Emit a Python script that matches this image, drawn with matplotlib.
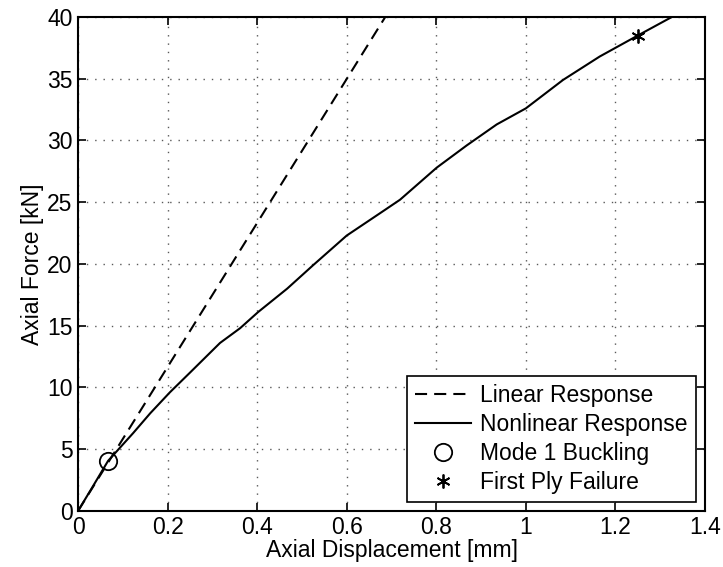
import matplotlib
matplotlib.use("Agg")
import matplotlib.pyplot as plt

# values
lin_x = [0, 0.686]
lin_y = [0, 40]

nl_x = [0, 0.03, 0.067, 0.123, 0.161, 0.205, 0.25, 0.317, 0.362, 0.402, 0.467,
        0.525, 0.600, 0.674, 0.719, 0.801, 0.868, 0.935, 1.0, 1.083, 1.165,
        1.25, 1.326]
nl_y = [0, 1.8, 4.05, 6.3, 7.9, 9.6, 11.2, 13.6, 14.8, 16.1, 18.0,
        19.9, 22.3, 24.1, 25.2, 27.8, 29.6, 31.3, 32.6, 34.9, 36.8,
        38.5, 40]

buckle_x, buckle_y = [0.067], [4.05]
fail_x, fail_y = [1.25], [38.5]

xticks = [0, 0.2, 0.4, 0.6, 0.8, 1, 1.2, 1.4]
xticklabels = ["0", "0.2", "0.4", "0.6", "0.8", "1", "1.2", "1.4"]
yticks = [0, 5, 10, 15, 20, 25, 30, 35, 40]

plt.rcParams['font.family'] = ['Liberation Sans', 'DejaVu Sans']
fs = 16.5

fig = plt.figure(figsize=(7.23, 5.67), dpi=100)
ax = fig.add_axes([0.108, 0.099, 0.867, 0.871])

ax.plot(lin_x, lin_y, 'k--', lw=1.5, dashes=(5.8, 3.4), label='Linear Response')
ax.plot(nl_x, nl_y, 'k-', lw=1.5, label='Nonlinear Response')
ax.plot(buckle_x, buckle_y, 'o', mfc='none', mec='k', ms=12.5, mew=1.3,
        ls='none', label='Mode 1 Buckling')
ax.plot(fail_x, fail_y, color='k', ms=10, mew=1.3, marker=(6, 2, 0),
        ls='none', label='First Ply Failure')

ax.set_xlim(0, 1.4)
ax.set_ylim(0, 40)
ax.set_xticks(xticks)
ax.set_xticklabels(xticklabels)
ax.set_yticks(yticks)
ax.tick_params(direction='in', top=True, right=True, length=6, width=1.2,
               labelsize=fs, pad=4)
for s in ax.spines.values():
    s.set_linewidth(1.5)
ax.grid(True, linestyle=(0, (1, 5)), color='0.35', lw=1.0)

ax.set_xlabel('Axial Displacement [mm]', fontsize=fs, labelpad=0)
ax.set_ylabel('Axial Force [kN]', fontsize=fs, labelpad=2)

leg = ax.legend(loc='lower right', handlelength=2.45, fontsize=fs,
                fancybox=False, edgecolor='k', framealpha=1,
                borderaxespad=0.4, labelspacing=0.25, handletextpad=0.4,
                borderpad=0.35)
leg.get_frame().set_linewidth(1.2)

fig.savefig('out.png', dpi=100)
